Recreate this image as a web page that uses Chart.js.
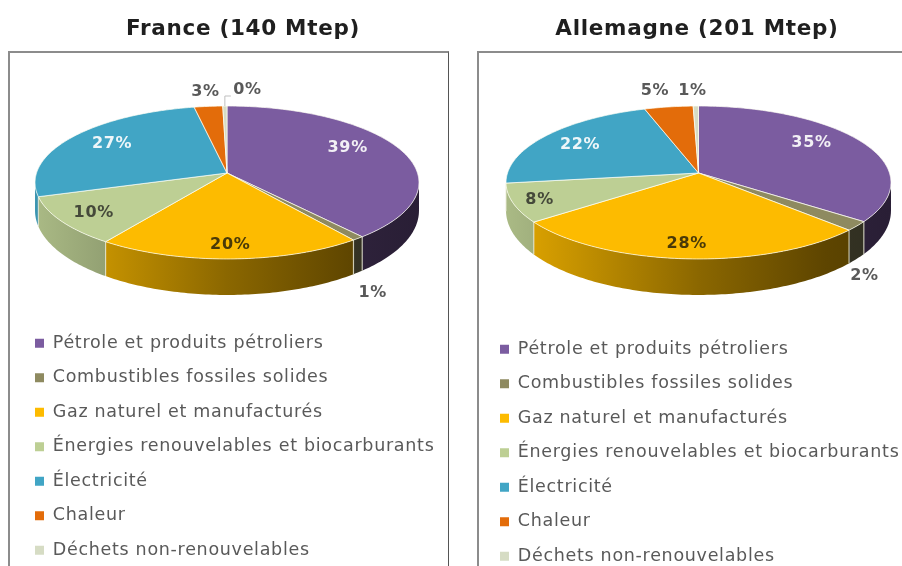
<!DOCTYPE html>
<html lang="fr"><head><meta charset="utf-8">
<script src="https://cdn.jsdelivr.net/npm/chart.js@4"></script>
<style>
html,body{margin:0;padding:0;width:902px;height:566px;overflow:hidden;background:#fff}
.frame{position:absolute;top:51px;height:600px;box-sizing:border-box}
#f1{left:8px;width:441px;border-left:2px solid #8c8c8c;border-top:2px solid #8c8c8c;border-right:1.5px solid #555}
#f2{left:477px;width:440px;border-left:2px solid #8c8c8c;border-top:2px solid #8c8c8c}
.c{position:absolute;top:0}
canvas{filter:blur(.5px)}
</style></head><body>
<div class="frame" id="f1"></div><div class="frame" id="f2"></div>
<div class="c" style="left:0;width:486px;height:640px"><canvas id="fr"></canvas></div>
<div class="c" style="left:477px;width:440px;height:640px"><canvas id="de"></canvas></div>
<script>
const categories=["Pétrole et produits pétroliers","Combustibles fossiles solides","Gaz naturel et manufacturés","Énergies renouvelables et biocarburants","Électricité","Chaleur","Déchets non-renouvelables"];
const franceValues=[38.9,0.9,19.9,10.4,26.8,2.7,0.4];
const allemagneValues=[35.2,2.0,27.5,8.2,22.0,4.6,0.5];
const franceTitle="France (140 Mtep)";
const allemagneTitle="Allemagne (201 Mtep)";
const colors=["#7b5ca0","#8e8a60","#fdbb00","#bdcf94","#41a5c5","#e36c0a","#d6dcc4"];
const labelColors=["#f2f0f5","#595959","#4a3a08","#45493a","#eef6f9","#595959","#595959"];

const sideStops=[[0,.9],[.18,.78],[.5,.55],[.83,.37],[1,.33]];
function rgb(h){return [1,3,5].map(i=>parseInt(h.substr(i,2),16));}
const pie3d={
  id:'pie3d',
  afterLayout(chart,args,o){
    const l=chart.legend; l.left=o.legendLeft; l.top=o.legendTop; l.adjustHitBoxes();
  },
  beforeDraw(chart){ chart.ctx.letterSpacing='0.7px'; },
  beforeDatasetsDraw(chart,args,o){
    const ctx=chart.ctx, meta=chart.getDatasetMeta(0);
    const proj=(th,f)=>{const u=Math.sin(th)*f,v=-Math.cos(th)*f,w=1-o.p*v;
      return [o.cx+o.a*u/w,o.cy+o.b*v/w,v];};
    const dep=v=>o.d0+o.d1*v;
    const grad=c=>{const g=ctx.createLinearGradient(o.cx-192,0,o.cx+192,0),b=rgb(c);
      sideStops.forEach(([t,k])=>g.addColorStop(t,`rgb(${b.map(x=>Math.round(x*k)).join(',')})`));return g;};
    const lo=97*Math.PI/180, hi=263*Math.PI/180;
    const slices=meta.data.map((el,i)=>{
      const p=el.getProps(['startAngle','endAngle'],true);
      return {i,s:p.startAngle+Math.PI/2,e:p.endAngle+Math.PI/2};});
    ctx.save();
    ctx.translate(o.ox,0);
    slices.forEach(({i,s,e})=>{
      const a=Math.max(s,lo),b=Math.min(e,hi); if(b<=a)return;
      const n=Math.max(2,Math.ceil((b-a)*60));
      ctx.beginPath();
      for(let k=0;k<=n;k++){const q=proj(a+(b-a)*k/n,1);k?ctx.lineTo(q[0],q[1]):ctx.moveTo(q[0],q[1]);}
      for(let k=n;k>=0;k--){const q=proj(a+(b-a)*k/n,1);ctx.lineTo(q[0],q[1]+dep(q[2]));}
      ctx.closePath();ctx.fillStyle=grad(colors[i]);ctx.fill();
    });
    ctx.strokeStyle='rgba(235,235,215,.75)';ctx.lineWidth=1.2;
    slices.forEach(({s})=>{ if(s<=lo||s>=hi)return;
      const q=proj(s,1);ctx.beginPath();ctx.moveTo(q[0],q[1]);ctx.lineTo(q[0],q[1]+dep(q[2]));ctx.stroke();});
    slices.forEach(({i,s,e})=>{
      const n=Math.max(2,Math.ceil((e-s)*60));
      ctx.beginPath();ctx.moveTo(o.cx,o.cy);
      for(let k=0;k<=n;k++){const q=proj(s+(e-s)*k/n,1);ctx.lineTo(q[0],q[1]);}
      ctx.closePath();ctx.fillStyle=colors[i];ctx.fill();
      ctx.strokeStyle='rgba(255,255,245,.7)';ctx.lineWidth=1;ctx.stroke();
    });
    ctx.font=o.labelFont;ctx.textAlign='center';ctx.textBaseline='middle';
    slices.forEach(({i,s,e})=>{
      const q=proj((s+e)/2,.7),off=o.offsets[i];
      ctx.fillStyle=labelColors[i];
      ctx.fillText(Math.round(chart.data.datasets[0].data[i])+'%',q[0]+off[0],q[1]+off[1]);
    });
    if(o.leader!=null){
      const sl=slices[o.leader],m=proj((sl.s+sl.e)/2,1);
      ctx.strokeStyle='#bfbfbf';ctx.lineWidth=1;ctx.beginPath();
      ctx.moveTo(m[0],m[1]);ctx.lineTo(m[0],m[1]-10);ctx.lineTo(m[0]+6,m[1]-10);ctx.stroke();
    }
    ctx.restore();
    return false;
  }
};
function make(id,values,title,opts){
  return new Chart(document.getElementById(id),{
    type:'pie',
    data:{labels:categories,datasets:[{data:values,backgroundColor:colors,borderWidth:0}]},
    plugins:[pie3d],
    options:{responsive:true,maintainAspectRatio:false,animation:false,
      plugins:{
        tooltip:{enabled:false},
        title:{display:true,text:title,color:'#1f1f1f',font:{family:'"DejaVu Sans"',size:21.5,weight:'bold'},padding:{top:17,bottom:0}},
        legend:{position:'chartArea',align:'start',
          labels:{boxWidth:9,boxHeight:9,padding:17,color:'#595959',font:{family:'"DejaVu Sans"',size:17.5}}},
        pie3d:opts
      }}
  });
}
const geom={p:.124,b:75.3,cy:173,d0:27,d1:9,labelFont:'bold 16px "DejaVu Sans"'};
make('fr',franceValues,franceTitle,Object.assign({},geom,{ox:0,cx:227,a:190.5,leader:6,legendLeft:18,legendTop:317.5,
  offsets:[[-1,-8],[57,75],[1,14],[-20,7],[-5,-3],[-8,-33],[22,-35]]}));
make('de',allemagneValues,allemagneTitle,Object.assign({},geom,{ox:-477,cx:698.5,a:191,leader:null,legendLeft:6,legendTop:323.5,
  offsets:[[-2,-7],[58,67],[-3,13],[-31,6],[-10,-1],[-22,-34],[-4,-34]]}));
</script></body></html>
